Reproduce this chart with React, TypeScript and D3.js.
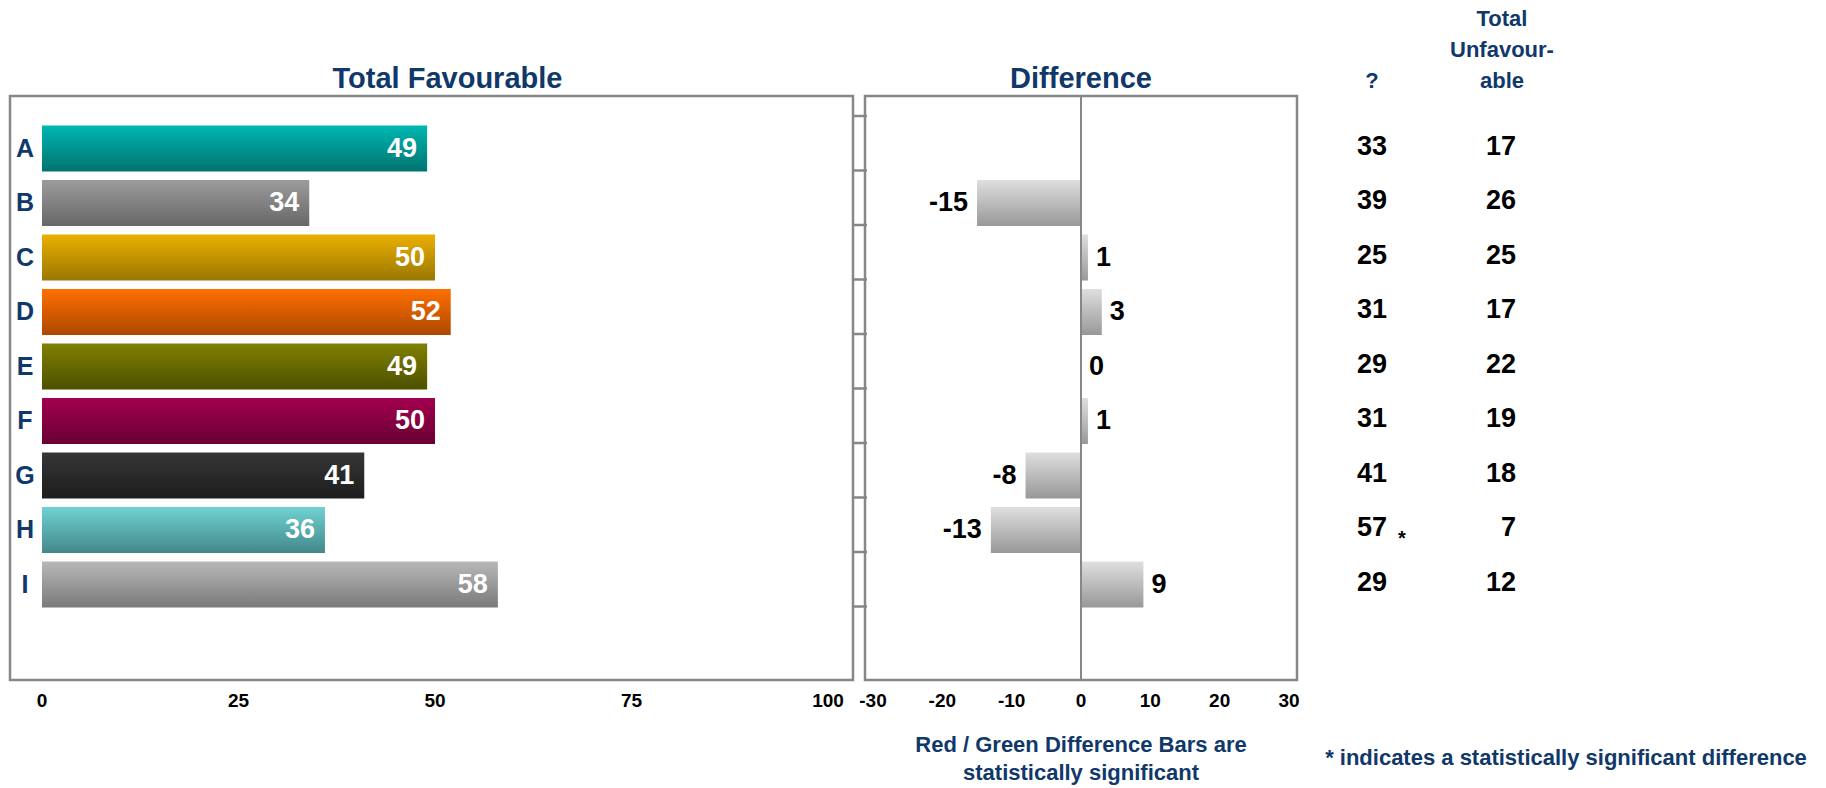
import React from "react";
import * as d3 from "d3";

// Survey items and their scores
const categories = ["A", "B", "C", "D", "E", "F", "G", "H", "I"];
const favourable = [49, 34, 50, 52, 49, 50, 41, 36, 58];
const difference: (number | null)[] = [null, -15, 1, 3, 0, 1, -8, -13, 9];
const unsure = [33, 39, 25, 31, 29, 31, 41, 57, 29];
const unfavourable = [17, 26, 25, 17, 22, 19, 18, 7, 12];
const significant = [false, false, false, false, false, false, false, true, false];

// Bar fills: [top, bottom] of each vertical gradient
const barColors: [string, string][] = [
  ["#00b7b2", "#00736f"],
  ["#9c9c9c", "#676767"],
  ["#ebb000", "#9a7700"],
  ["#ff6f00", "#ad4800"],
  ["#808000", "#4d5000"],
  ["#a3004f", "#690033"],
  ["#363636", "#1d1d1d"],
  ["#6fd2d1", "#43888a"],
  ["#b8b8b8", "#7a7a7a"],
];
const diffColors: [string, string] = ["#dfdfdf", "#989898"];

const favTicks = [0, 25, 50, 75, 100];
const diffTicks = [-30, -20, -10, 0, 10, 20, 30];

const W = 1826;
const H = 788;
const NAVY = "#10386a";
const FRAME = "#878787";
const FONT = "'Liberation Sans', Arial, Helvetica, sans-serif";

export default function App() {
  const favFrame = { x0: 10, x1: 853, y0: 96, y1: 680 };
  const diffFrame = { x0: 865, x1: 1297, y0: 96, y1: 680 };

  const xFav = d3.scaleLinear().domain([0, 100]).range([42, 828]);
  const xDiff = d3.scaleLinear().domain([-30, 30]).range([873, 1289]);
  const y = d3.scaleBand<string>().domain(categories).range([116, 606.5]).padding(0);
  const barOffset = 9.5;
  const barH = y.bandwidth() - 8.5;
  const mid = (c: string) => (y(c) as number) + barOffset + barH / 2;

  const tickYs = [...categories.map((c) => y(c) as number), y.range()[1]];

  const colUnsure = 1372;
  const colUnfav = 1516;

  return (
    <svg
      width={W}
      height={H}
      viewBox={`0 0 ${W} ${H}`}
      style={{ position: "absolute", left: 0, top: 0, background: "#fff" }}
      fontFamily={FONT}
      fontWeight="bold"
    >
      <defs>
        {barColors.map(([a, b], i) => (
          <linearGradient key={i} id={`fav${i}`} x1="0" y1="0" x2="0" y2="1">
            <stop offset="0" stopColor={a} />
            <stop offset="1" stopColor={b} />
          </linearGradient>
        ))}
        <linearGradient id="diffGrad" x1="0" y1="0" x2="0" y2="1">
          <stop offset="0" stopColor={diffColors[0]} />
          <stop offset="1" stopColor={diffColors[1]} />
        </linearGradient>
      </defs>

      {/* Titles */}
      <text x={(xFav(0) + favFrame.x1) / 2} y={88} textAnchor="middle" fontSize={29} fill={NAVY}>
        Total Favourable
      </text>
      <text x={xDiff(0)} y={88} textAnchor="middle" fontSize={29} fill={NAVY}>
        Difference
      </text>
      <text x={colUnsure} y={88} textAnchor="middle" fontSize={22} fill={NAVY}>
        ?
      </text>
      {["Total", "Unfavour-", "able"].map((t, i) => (
        <text key={t} x={1502} y={26 + i * 31} textAnchor="middle" fontSize={22} fill={NAVY}>
          {t}
        </text>
      ))}

      {/* Favourable panel */}
      <rect
        x={favFrame.x0}
        y={favFrame.y0}
        width={favFrame.x1 - favFrame.x0}
        height={favFrame.y1 - favFrame.y0}
        fill="none"
        stroke={FRAME}
        strokeWidth={2.5}
      />
      {categories.map((c, i) => (
        <g key={c}>
          <rect
            x={xFav(0)}
            y={(y(c) as number) + barOffset}
            width={xFav(favourable[i]) - xFav(0)}
            height={barH}
            fill={`url(#fav${i})`}
          />
          <text
            x={xFav(favourable[i]) - 10}
            y={mid(c) + 8}
            textAnchor="end"
            fontSize={27}
            fill="#fff"
          >
            {favourable[i]}
          </text>
          <text x={25} y={mid(c) + 8} textAnchor="middle" fontSize={25} fill={NAVY}>
            {c}
          </text>
        </g>
      ))}
      {favTicks.map((t) => (
        <text key={t} x={xFav(t)} y={707} textAnchor="middle" fontSize={19} fill="#000">
          {t}
        </text>
      ))}

      {/* Difference panel */}
      <rect
        x={diffFrame.x0}
        y={diffFrame.y0}
        width={diffFrame.x1 - diffFrame.x0}
        height={diffFrame.y1 - diffFrame.y0}
        fill="none"
        stroke={FRAME}
        strokeWidth={2.5}
      />
      {tickYs.map((ty, i) => (
        <line key={i} x1={favFrame.x1} x2={diffFrame.x0 + 2} y1={ty} y2={ty} stroke={FRAME} strokeWidth={2.5} />
      ))}
      {categories.map((c, i) => {
        const v = difference[i];
        if (v === null) return null;
        const x0 = xDiff(Math.min(0, v));
        const x1 = xDiff(Math.max(0, v));
        return (
          <g key={c}>
            {v !== 0 && (
              <rect x={x0} y={(y(c) as number) + barOffset} width={x1 - x0} height={barH} fill="url(#diffGrad)" />
            )}
            <text
              x={v < 0 ? xDiff(v) - 9 : xDiff(v) + 8}
              y={mid(c) + 8}
              textAnchor={v < 0 ? "end" : "start"}
              fontSize={27}
              fill="#000"
            >
              {v}
            </text>
          </g>
        );
      })}
      <line x1={xDiff(0)} x2={xDiff(0)} y1={diffFrame.y0} y2={diffFrame.y1} stroke={FRAME} strokeWidth={2} />
      {diffTicks.map((t) => (
        <text key={t} x={xDiff(t)} y={707} textAnchor="middle" fontSize={19} fill="#000">
          {t}
        </text>
      ))}

      {/* Side columns */}
      {categories.map((c, i) => (
        <g key={c}>
          <text x={colUnsure} y={mid(c) + 6} textAnchor="middle" fontSize={27} fill="#000">
            {unsure[i]}
          </text>
          {significant[i] && (
            <text x={1402} y={mid(c) + 15} textAnchor="middle" fontSize={20} fill="#000">
              *
            </text>
          )}
          <text x={colUnfav} y={mid(c) + 6} textAnchor="end" fontSize={27} fill="#000">
            {unfavourable[i]}
          </text>
        </g>
      ))}

      {/* Notes */}
      <text x={xDiff(0)} y={752} textAnchor="middle" fontSize={22} fill={NAVY}>
        Red / Green Difference Bars are
      </text>
      <text x={xDiff(0)} y={780} textAnchor="middle" fontSize={22} fill={NAVY}>
        statistically significant
      </text>
      <text x={1566} y={765} textAnchor="middle" fontSize={22} fill={NAVY}>
        * indicates a statistically significant difference
      </text>
    </svg>
  );
}
